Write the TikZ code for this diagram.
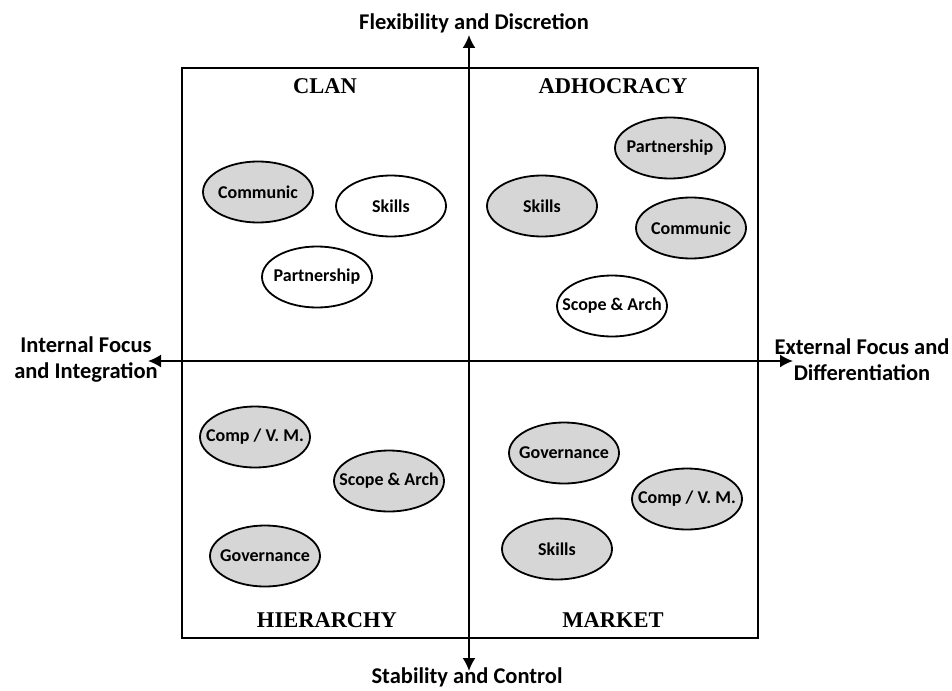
\documentclass[tikz,border=0pt]{standalone}
\usepackage{fontspec}
\setmainfont{Carlito}
\newfontfamily\quadfont{Liberation Serif}
\usetikzlibrary{arrows.meta,shapes.geometric}

% text of fixed-size bubbles must not widen the ellipse
\newcommand\bubtxt[1]{\makebox[0pt]{#1}}

\begin{document}
\begin{tikzpicture}[x=1pt,y=-1pt,
  bubble/.style={ellipse, draw, line width=1.8pt, minimum width=110pt,
    minimum height=61pt, inner sep=0pt,
    font=\bfseries\fontsize{18}{20}\selectfont},
  shaded/.style={bubble, fill=black!16},
  plain/.style={bubble, fill=white},
  quadlabel/.style={font=\quadfont\bfseries\fontsize{22.5}{24}\selectfont, inner sep=0pt},
  axislabel/.style={font=\bfseries\fontsize{22.5}{26}\selectfont, align=center, inner sep=0pt},
  axis/.style={line width=1.8pt, {Latex[length=13pt,width=13pt]}-{Latex[length=13pt,width=13pt]}}
]
% canvas
\fill[white] (0,0) rectangle (952,690);

% outer frame
\coordinate (nw) at (182,68);
\coordinate (se) at (758,638);
\draw[line width=1.8pt] (nw) rectangle (se);

% axes
\coordinate (top) at (469,35);
\coordinate (bot) at (469,671);
\coordinate (lft) at (148,361);
\coordinate (rgt) at (793,361);
\draw[axis] (bot) -- (top);
\draw[axis] (lft) -- (rgt);

% axis labels
\node[axislabel, anchor=base] (flex) at (474,30) {Flexibility and Discretion};
\node[axislabel, anchor=base] (stab) at (467,683) {Stability and Control};
\node[axislabel] (int) at (86,360) {Internal Focus\\and Integration};
\node[axislabel] (ext) at (862,360) {External Focus and\\Differentiation};

% quadrant names
\node[quadlabel] (clan) at (325,86) {CLAN};
\node[quadlabel] (adh) at (613,86) {ADHOCRACY};
\node[quadlabel] (hier) at (327,620) {HIERARCHY};
\node[quadlabel] (mkt) at (613,620) {MARKET};

% clan
\node[shaded] (c1) at (258,192) {\bubtxt{Communic}};
\node[plain]  (c2) at (391,206) {\bubtxt{Skills}};
\node[plain]  (c3) at (317,277) {\bubtxt{Partnership}};

% adhocracy
\node[shaded] (a1) at (670,148) {\bubtxt{Partnership}};
\node[shaded] (a2) at (542,206) {\bubtxt{Skills}};
\node[shaded] (a3) at (691,228) {\bubtxt{Communic}};
\node[plain]  (a4) at (612,306) {\bubtxt{Scope \& Arch}};

% hierarchy
\node[shaded] (h1) at (255,437) {\bubtxt{Comp / V. M.}};
\node[shaded] (h2) at (389,481) {\bubtxt{Scope \& Arch}};
\node[shaded] (h3) at (265,556) {\bubtxt{Governance}};

% market
\node[shaded] (m1) at (564,453) {\bubtxt{Governance}};
\node[shaded] (m2) at (687,499) {\bubtxt{Comp / V. M.}};
\node[shaded] (m3) at (557,549) {\bubtxt{Skills}};
\end{tikzpicture}
\end{document}
